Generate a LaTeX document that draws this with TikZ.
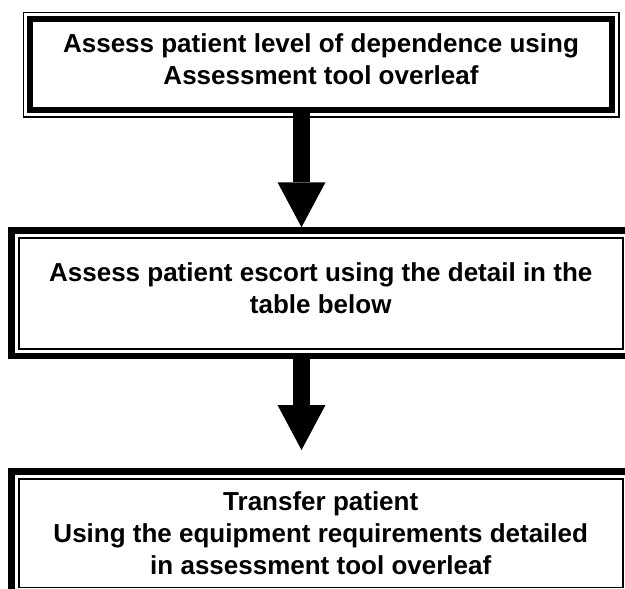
\documentclass[tikz,border=0pt]{standalone}
\usepackage{fontspec}
\setmainfont{Liberation Sans}
\usetikzlibrary{arrows.meta}

\begin{document}
\begin{tikzpicture}[x=1pt,y=-1pt,
  stepbox/.style={draw,line width=6.5pt,inner sep=0pt,align=center,text depth=10pt,
    font=\fontsize{26}{32}\selectfont\bfseries},
  thinframe/.style={line width=1.5pt},
  bigarrow/.style={line width=17pt,-{Triangle[length=45pt,width=48pt,line width=0pt]}}]
\useasboundingbox (0,0) rectangle (625,589);

\node[stepbox,minimum width=582pt,minimum height=91pt] (assess) at (321,64.5)
  {Assess patient level of dependence using\\Assessment tool overleaf};
\draw[thinframe] ([shift={(-3.5,-3.5)}]assess.north west) rectangle ([shift={(3.5,3.5)}]assess.south east);

\node[stepbox,minimum width=618.5pt,minimum height=125.5pt] (escort) at (320.75,293.25)
  {Assess patient escort using the detail in the\\table below};
\draw[thinframe] ([shift={(10.5,10.5)}]escort.north west) rectangle ([shift={(-10.5,-10.5)}]escort.south east);

\node[stepbox,text depth=0pt,minimum width=618.5pt,minimum height=123pt] (transfer) at (320.75,533)
  {Transfer patient\\Using the equipment requirements detailed\\in assessment tool overleaf};
\draw[thinframe] ([shift={(10.5,10.5)}]transfer.north west) rectangle ([shift={(-10.5,-10.5)}]transfer.south east);

\coordinate (shaft) at (301.5,0);
\coordinate (gap) at (301.5,450);

\draw[bigarrow] (assess.south -| shaft) -- (escort.north -| shaft);
\draw[bigarrow] (escort.south -| shaft) -- (gap);
\end{tikzpicture}
\end{document}
